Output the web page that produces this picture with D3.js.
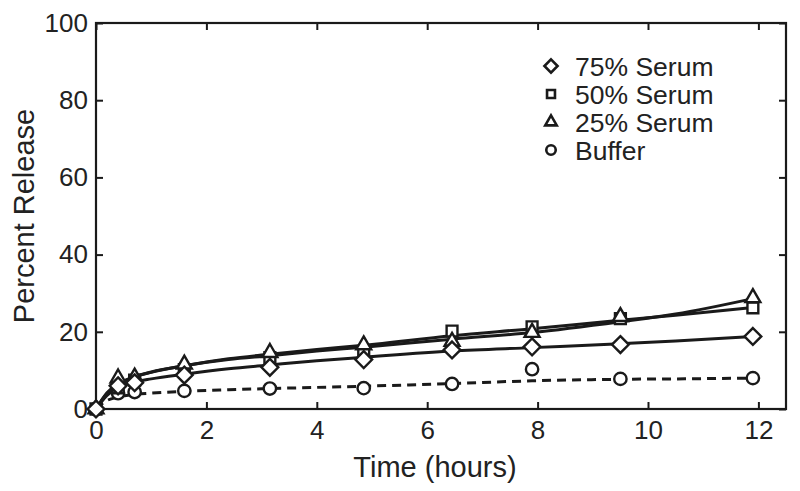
<!DOCTYPE html>
<html><head><meta charset="utf-8">
<script src="https://cdn.jsdelivr.net/npm/d3@7/dist/d3.min.js"></script>
<style>body{margin:0;background:#fff}svg{display:block}text{font-family:"Liberation Sans",Arial,Helvetica,sans-serif;fill:#222}</style>
</head><body>
<svg id="c" width="800" height="491"></svg>
<script>
// ---- data ----
const times = [0, 0.4, 0.7, 1.6, 3.15, 4.85, 6.45, 7.9, 9.5, 11.9];
const serum75 = [0, 6.0, 6.8, 8.8, 10.8, 12.8, 15.3, 16.1, 16.7, 18.8];
const serum50 = [0, 5.5, 7.5, 10.2, 13.3, 14.6, 20.2, 21.3, 23.4, 26.2];
const serum25 = [0, 8.0, 8.2, 11.6, 14.6, 16.6, 17.5, 19.8, 23.9, 28.8];
const buffer  = [0, 4.1, 4.4, 4.7, 5.3, 5.4, 6.5, 10.3, 7.8, 8.0];
// fitted curves
const fitTimes = [0, 0.2, 0.4, 0.7, 1.0, 1.6, 2.4, 3.15, 4.0, 4.85, 6.45, 7.9, 9.5, 10.5, 11.9];
const fit75 = [0, 3.5, 5.6, 7.0, 7.8, 9.0, 10.4, 11.4, 12.5, 13.4, 15.0, 15.9, 16.9, 17.6, 18.8];
const fit50 = [0, 4.0, 6.4, 8.3, 9.5, 11.2, 13.0, 14.2, 15.4, 16.5, 19.0, 20.8, 23.0, 24.3, 26.3];
const fit25 = [0, 4.2, 6.5, 8.4, 9.6, 11.2, 12.8, 13.8, 15.0, 16.0, 18.1, 19.8, 22.6, 24.6, 28.6];
const fitBuf = [0, 2.2, 3.1, 3.8, 4.1, 4.6, 5.0, 5.3, 5.6, 5.9, 6.6, 7.3, 7.7, 7.8, 8.0];
const xTicks = [0, 2, 4, 6, 8, 10, 12];
const yTicks = [0, 20, 40, 60, 80, 100];
const legendLabels = ["75% Serum", "50% Serum", "25% Serum", "Buffer"];
const xTitle = "Time (hours)", yTitle = "Percent Release";

// ---- layout ----
const svg = d3.select("#c");
const L = 96, R = 786, T = 23, B = 409;
const x = d3.scaleLinear().domain([0, 12.5]).range([L, R]);
const y = d3.scaleLinear().domain([0, 100]).range([B, T]);
const ink = "#1a1a1a";

// axes
const tk = 7;
const gB = svg.append("g").attr("transform", `translate(0,${B})`)
  .call(d3.axisBottom(x).tickValues(xTicks).tickSizeInner(-tk).tickSizeOuter(0).tickPadding(12).tickFormat(d3.format("d")));
const gT = svg.append("g").attr("transform", `translate(0,${T})`)
  .call(d3.axisTop(x).tickValues(xTicks).tickSizeInner(-tk).tickSizeOuter(0).tickFormat(""));
const gL = svg.append("g").attr("transform", `translate(${L},0)`)
  .call(d3.axisLeft(y).tickValues(yTicks).tickSizeInner(-tk).tickSizeOuter(0).tickPadding(8).tickFormat(d3.format("d")));
const gR = svg.append("g").attr("transform", `translate(${R},0)`)
  .call(d3.axisRight(y).tickValues(yTicks).tickSizeInner(-tk).tickSizeOuter(0).tickFormat(""));
[gB, gT, gL, gR].forEach(g => {
  g.select(".domain").remove();
  g.selectAll(".tick line").attr("stroke", ink).attr("stroke-width", 2);
  g.selectAll(".tick text").attr("font-size", 26).attr("fill", "#222")
    .style("font-family", '"Liberation Sans",Arial,sans-serif');
});
gB.selectAll(".tick text").attr("dy", "0.68em");
svg.append("rect").attr("x", L).attr("y", T).attr("width", R - L).attr("height", B - T)
  .attr("fill", "none").attr("stroke", ink).attr("stroke-width", 2.2);

// titles
svg.append("text").attr("x", (L + R) / 2 - 6).attr("y", 477).attr("text-anchor", "middle")
  .attr("font-size", 29).text(xTitle);
svg.append("text").attr("transform", `translate(34,${(T + B) / 2}) rotate(-90)`)
  .attr("text-anchor", "middle").attr("font-size", 29).text(yTitle);

// fit lines
const line = d3.line().x((d, i) => x(fitTimes[i])).y(d => y(d)).curve(d3.curveMonotoneX);
const fits = [[fitBuf, "9,6"], [fit75, null], [fit50, null], [fit25, null]];
fits.forEach(([vals, dash]) => {
  svg.append("path").datum(vals).attr("d", line).attr("fill", "none")
    .attr("stroke", ink).attr("stroke-width", 3).attr("stroke-dasharray", dash);
});

// markers
const series = [
  [buffer, d3.symbolCircle, 120],
  [serum50, d3.symbolSquare2, 150],
  [serum25, d3.symbolTriangle2, 160],
  [serum75, d3.symbolDiamond2, 180]
];
series.forEach(([vals, type, size]) => {
  svg.append("g").selectAll("path").data(vals).join("path")
    .attr("transform", (d, i) => `translate(${x(times[i])},${y(d)})`)
    .attr("d", d3.symbol().type(type).size(size))
    .attr("fill", "#fff").attr("stroke", ink).attr("stroke-width", 2.4);
});

// legend
const legTypes = [[d3.symbolDiamond2, 110], [d3.symbolSquare2, 80], [d3.symbolTriangle2, 95], [d3.symbolCircle, 70]];
const legY = [66, 94, 122, 150];
legendLabels.forEach((lab, i) => {
  svg.append("path").attr("transform", `translate(551,${legY[i]})`)
    .attr("d", d3.symbol().type(legTypes[i][0]).size(legTypes[i][1]))
    .attr("fill", "#fff").attr("stroke", ink).attr("stroke-width", 2.6);
  svg.append("text").attr("x", 575).attr("y", legY[i]).attr("dy", "0.36em")
    .attr("font-size", 26.5).text(lab);
});
</script>
</body></html>
